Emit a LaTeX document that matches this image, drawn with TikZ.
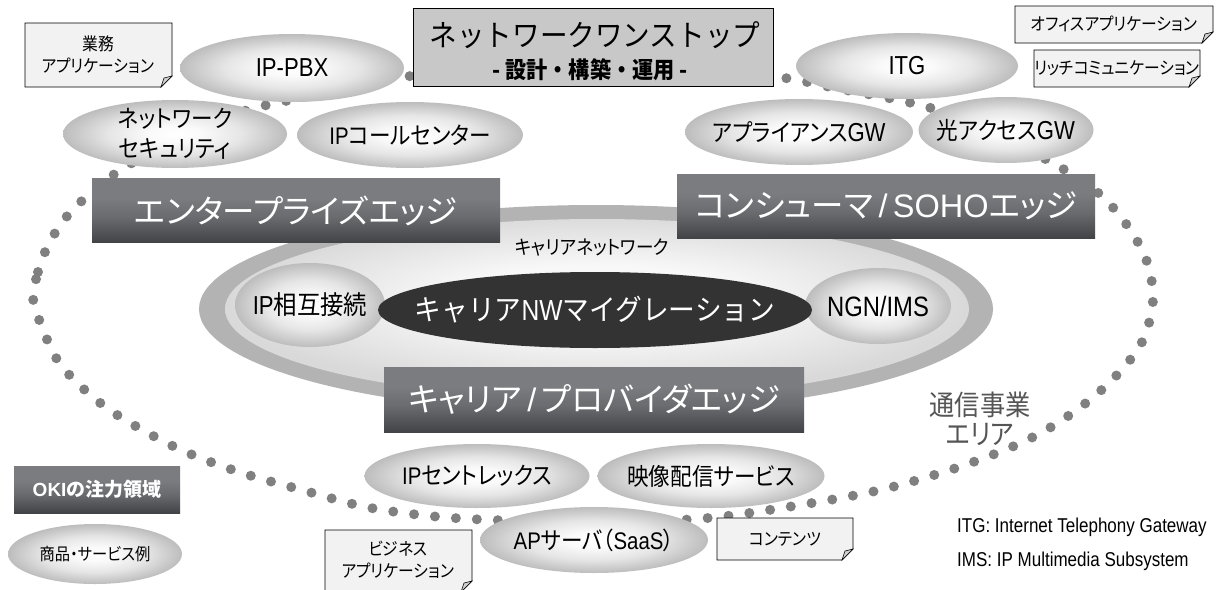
\documentclass[tikz,border=0pt]{standalone}
\usepackage{fontspec}
\setmainfont{Liberation Sans}
\newfontfamily\jpA{Noto Sans CJK JP}[RawFeature=+palt, FakeStretch=0.9]
\newfontfamily\jpB{Noto Sans CJK JP}[RawFeature=+palt]
\newfontfamily\jpC{Noto Sans CJK JP}[FakeStretch=0.92]
\newfontfamily\ltA{Liberation Sans}[FakeStretch=0.85]
\usetikzlibrary{shapes.geometric}
\definecolor{dotgray}{HTML}{808080}
\definecolor{ringgray}{HTML}{B3B3B3}
\definecolor{darkell}{HTML}{333333}
\definecolor{titlefill}{HTML}{C8C8C8}
\definecolor{notefill}{HTML}{F2F2F2}
\definecolor{flapfill}{HTML}{D0D0D0}
\definecolor{boxtop}{HTML}{7B7C80}
\definecolor{boxmid}{HTML}{6A6B6F}
\definecolor{boxbot}{HTML}{424346}
\definecolor{areatext}{HTML}{555555}
\pgfdeclareradialshading{ellshade}{\pgfpoint{0bp}{0bp}}{color(0bp)=(white); color(6bp)=(white!98!black); color(15bp)=(white!90!black); color(25bp)=(white!74!black); color(50bp)=(white!74!black)}
\pgfdeclareradialshading{innershade}{\pgfpoint{0bp}{3bp}}{color(0bp)=(white); color(10bp)=(white!97!black); color(25bp)=(white!85!black); color(50bp)=(white!85!black)}
\pgfdeclareverticalshading{boxshade}{100bp}{color(0bp)=(boxbot); color(25bp)=(boxbot); color(45bp)=(boxmid); color(60bp)=(boxtop); color(75bp)=(boxtop); color(100bp)=(boxtop)}
\newcommand\notebg[4]{%
  \filldraw[notestyle] (#1,#2) -- (#3,#2) -- (#3,#4-11) -- (#3-11,#4) -- (#1,#4) -- cycle;
  \filldraw[flapstyle] (#3,#4-11) -- (#3-11,#4) -- (#3-8,#4-9) -- cycle;}
\newcommand\zb[1]{\makebox[0pt][c]{#1}}
\begin{document}
\begin{tikzpicture}[x=1pt,y=-1pt,
  ell/.style={ellipse, inner sep=0pt, shade, shading=ellshade, font=\fontsize{24}{30}\selectfont},
  edgebox/.style={rectangle, inner sep=0pt, shade, shading=boxshade, text=white, font=\jpB\fontsize{32.5}{36}\selectfont},
  notestyle/.style={draw=black, line width=0.8pt, fill=notefill},
  flapstyle/.style={draw=black, line width=0.6pt, fill=flapfill},
  notetext/.style={align=center, inner sep=0pt, font=\jpA\fontsize{17.5}{22}\selectfont},
  dotloop/.style={draw=dotgray, line width=10pt, line cap=round, dash pattern=on 0pt off 21pt},
  legend/.style={anchor=west, inner sep=0pt, font=\ltA\fontsize{20}{22}\selectfont}]
\useasboundingbox (0,0) rectangle (1217,589);
\fill[white] (0,0) rectangle (1217,589);
% dotted area loop
\draw[dotloop] plot[smooth cycle, tension=0.55] coordinates {(33,297) (38,272) (45,252) (55,233) (68,215) (84,199) (116,173) (160,147) (205,124) (255,108) (300,98) (352,87) (403,77) (500,67) (600,64) (700,68) (785,78) (835,88) (898,100) (940,111) (1000,136) (1058,166) (1096,191) (1124,221) (1146,259) (1153,300) (1142,342) (1115,377) (1082,406) (1046,430) (1007,449) (950,470) (880,490) (800,505) (708,518) (600,523) (493,520) (430,516) (366,507) (302,490) (239,472) (179,449) (122,418) (87,392) (58,361) (40,322)};
% carrier network
\node[ellipse, fill=ringgray, minimum width=794, minimum height=208, inner sep=0pt] (cnout) at (596,309) {};
\node[ellipse, shade, shading=innershade, minimum width=744, minimum height=180, inner sep=0pt] (cnin) at (597,309) {};
\node[font=\jpA\fontsize{19.5}{22}\selectfont] (cnlabel) at (592,248) {キャリアネットワーク};
\node[ell, minimum width=150, minimum height=84, font=\fontsize{26}{30}\selectfont] (ipx) at (310,305) {\zb{\ltA IP{\jpA 相互接続}}};
\node[ell, minimum width=146, minimum height=76, font=\fontsize{28}{30}\selectfont] (ngn) at (878,306) {\zb{\ltA NGN/IMS}};
\node[ellipse, fill=darkell, inner sep=0pt, minimum width=434, minimum height=76, text=white, font=\fontsize{29}{32}\selectfont] (mig) at (595,310) {\zb{{\jpC キャリア}{\ltA NW}{\jpC マイグレーション}}};
% edge boxes
\node[edgebox, minimum width=408, minimum height=64] (ent) at (296,210.5) {エンタープライズエッジ};
\node[edgebox, minimum width=418, minimum height=64] (soho) at (886,206) {コンシューマ\,{\rmfamily /}\,{\rmfamily SOHO}エッジ};
\node[edgebox, minimum width=420, minimum height=65] (carr) at (594,399.5) {キャリア\,{\rmfamily /}\,プロバイダエッジ};
\node[edgebox, minimum width=166, minimum height=47, font=\bfseries\jpB\fontsize{19}{22}\selectfont] (oki) at (97,489.5) {{\rmfamily OKI}の注力領域};
% title
\node[rectangle, draw=black, line width=0.8pt, fill=titlefill, minimum width=360, minimum height=78, inner sep=0pt] (title) at (593,47) {};
\node[font=\jpC\fontsize{30}{34}\selectfont] (title1) at (595,35) {ネットワークワンストップ};
\node[font=\jpC\bfseries\fontsize{23}{26}\selectfont] (title2) at (590,70) {- 設計・構築・運用 -};
% top ellipses
\node[ell, minimum width=224, minimum height=68] (pbx) at (292,68) {\zb{\ltA\fontsize{26}{30}\selectfont IP-PBX}};
\node[ell, minimum width=222, minimum height=66] (itg) at (907,66) {\zb{\ltA\fontsize{26}{30}\selectfont ITG}};
\node[ell, minimum width=224, minimum height=68] (sec) at (175,134) {};
\node[align=center, inner sep=0pt, font=\jpA\fontsize{24}{30}\selectfont] (sect) at (sec.center) {ネットワーク\\セキュリティ};
\node[ell, minimum width=226, minimum height=66] (callc) at (410,135) {\zb{{\ltA IP}{\jpA コールセンター}}};
\node[ell, minimum width=228, minimum height=66] (appgw) at (799,132) {\zb{{\jpA アプライアンス}{\ltA\fontsize{26}{30}\selectfont GW}}};
\node[ell, minimum width=175, minimum height=66] (optgw) at (1006,130) {\zb{{\jpA 光アクセス}{\ltA\fontsize{26}{30}\selectfont GW}}};
% bottom ellipses
\node[ell, minimum width=225, minimum height=64] (centrex) at (477,476) {\zb{{\ltA IP}{\jpA セントレックス}}};
\node[ell, minimum width=227, minimum height=64] (video) at (711,476) {\zb{\jpA 映像配信サービス}};
\node[ell, minimum width=228, minimum height=66] (apsv) at (594,540) {\zb{{\ltA AP}{\jpA サーバ（}{\ltA SaaS}{\jpA ）}}};
\node[ell, minimum width=174, minimum height=60, font=\jpA\fontsize{17}{20}\selectfont] (ex) at (95,554) {\zb{商品・サービス例}};
% notes
\notebg{25}{23}{172}{87}
\node[notetext] (n1) at (98,55) {業務\\アプリケーション};
\notebg{1015}{6}{1213}{43}
\node[notetext] (n2) at (1114,24) {オフィスアプリケーション};
\notebg{1034}{50}{1200}{87}
\node[notetext] (n3) at (1117,68) {リッチコミュニケーション};
\notebg{325}{530}{472}{592}
\node[notetext] (n4) at (398,560) {ビジネス\\アプリケーション};
\notebg{717}{518}{853}{560}
\node[notetext] (n5) at (785,539) {コンテンツ};
% area label
\node[align=center, text=areatext, font=\jpA\fontsize{28}{29}\selectfont] (area) at (980,419) {通信事業\\エリア};
% legend
\node[legend] (leg1) at (957,527) {ITG: Internet Telephony Gateway};
\node[legend] (leg2) at (957,561) {IMS: IP Multimedia Subsystem};
\end{tikzpicture}
\end{document}
